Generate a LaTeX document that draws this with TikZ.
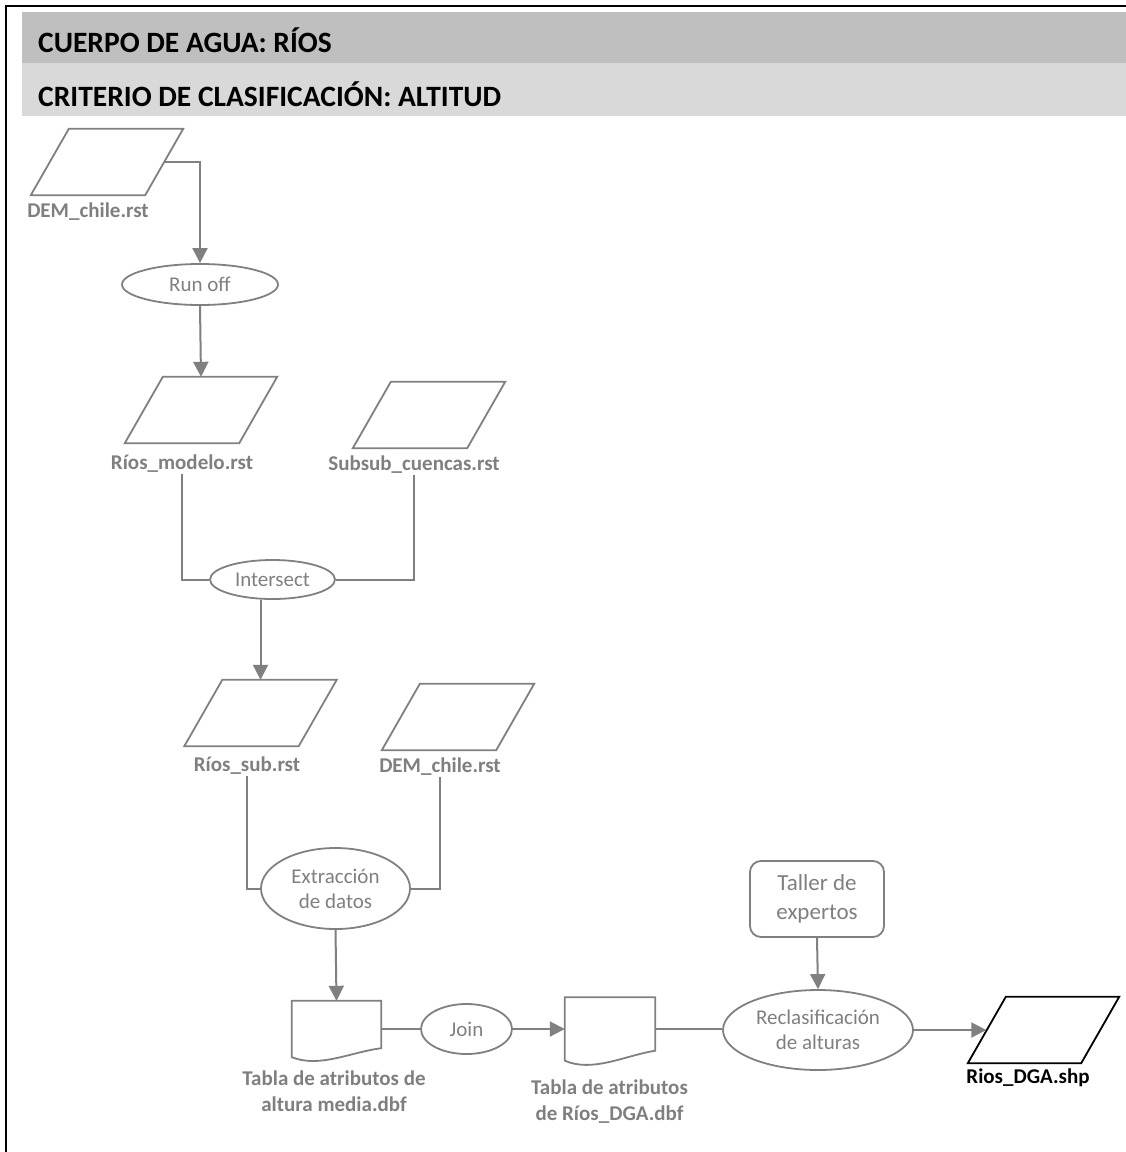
\documentclass[tikz,border=0pt]{standalone}
\usepackage{fontspec}
\setmainfont{Carlito}
\usetikzlibrary{shapes.geometric,arrows.meta,calc}
\definecolor{lineg}{HTML}{808080}
\definecolor{txtg}{HTML}{7F7F7F}
\definecolor{bandA}{HTML}{BFBFBF}
\definecolor{bandB}{HTML}{D9D9D9}
\tikzset{
  conn/.style={draw=lineg, line width=2pt},
  arr/.style={conn, -{Triangle[width=15pt,length=15pt]}},
  proc/.style={ellipse, draw=lineg, line width=1.8pt, text=txtg, inner sep=0pt, align=center,
    font=\fontsize{21}{25}\selectfont},
  parabox/.style={rectangle, inner sep=0pt, minimum height=66pt, minimum width=152pt},
  paraline/.style={draw=lineg, line width=1.8pt, line join=miter},
  lab/.style={text=txtg, font=\bfseries\fontsize{21}{26}\selectfont, align=center, inner sep=2pt},
  docbox/.style={rectangle, inner sep=0pt},
  docline/.style={draw=lineg, line width=1.8pt, line join=miter},
  head/.style={font=\bfseries\fontsize{29.5}{33}\selectfont, anchor=base west, inner sep=0pt}
}
\newcommand\drawpara[2][]{\draw[paraline,#1] (#2.south west) -- ($(#2.north west)+(38,0)$) -- (#2.north east) -- ($(#2.south east)+(-38,0)$) -- cycle;}
\begin{document}
\begin{tikzpicture}[x=1pt,y=-1pt]
\useasboundingbox (0,0) rectangle (1126,1152);
% frame and header bands
\fill[bandA] (22,12) rectangle (1126,62.5);
\fill[bandB] (22,62.5) rectangle (1126,116);
\draw[line width=2.4pt] (6,1160) -- (6,6) -- (1130,6);
\node[head] (h1) at (38,52) {CUERPO DE AGUA: RÍOS};
\node[head] (h2) at (38,106.5) {CRITERIO DE CLASIFICACIÓN: ALTITUD};

% parallelograms
\node[parabox] (dem1) at (107,162) {};
\node[parabox] (rmod) at (201,410) {};
\node[parabox] (subsub) at (429,415) {};
\node[parabox] (rsub) at (260.5,713) {};
\node[parabox] (dem2) at (458,717) {};
\node[parabox, minimum width=151pt] (rdga) at (1043.5,1030) {};
\drawpara{dem1}
\drawpara{rmod}
\drawpara{subsub}
\drawpara{rsub}
\drawpara{dem2}
\drawpara[draw=black]{rdga}

% labels
\node[lab, anchor=base] (ldem1) at (88,217) {DEM\_chile.rst};
\node[lab, anchor=base] (lrmod) at (182,469) {Ríos\_modelo.rst};
\node[lab, anchor=base] (lsub) at (414,470) {Subsub\_cuencas.rst};
\node[lab, anchor=base] (lrsub) at (247,771) {Ríos\_sub.rst};
\node[lab, anchor=base] (ldem2) at (440,772) {DEM\_chile.rst};
\node[lab] (ltab1) at (334,1091) {Tabla de atributos de\\altura media.dbf};
\node[lab] (ltab2) at (609.5,1102) {Tabla de atributos\\de Ríos\_DGA.dbf};
\node[lab, anchor=base, text=black] (lrdga) at (1028,1083) {Rios\_DGA.shp};

% processes
\node[proc, minimum width=156pt, minimum height=41pt] (runoff) at (200,284.5) {Run off};
\node[proc, minimum width=125pt, minimum height=39pt] (inter) at (272.5,579.5) {Intersect};
\node[proc, minimum width=149pt, minimum height=81pt] (ext) at (335.5,888.5) {Extracción\\de datos};
\node[proc, minimum width=91pt, minimum height=50pt] (join) at (466.5,1029) {Join};
\node[proc, minimum width=190pt, minimum height=80pt] (recl) at (818,1030) {Reclasificación\\de alturas};
\node[rectangle, rounded corners=11pt, draw=lineg, line width=1.8pt, text=txtg, align=center,
  font=\fontsize{23}{29}\selectfont, minimum width=134pt, minimum height=76pt, inner sep=0pt]
  (taller) at (817,899) {Taller de\\expertos};

% documents
\node[docbox, minimum width=89pt, minimum height=56pt] (doc1) at (336.5,1029) {};
\draw[docline] (doc1.south west) -- (doc1.north west) -- (doc1.north east) -- ($(doc1.south east)+(0,-9)$)
  .. controls ($(doc1.south east)+(-31,-5)$) and ($(doc1.south west)+(28,11)$) .. (doc1.south west) -- cycle;
\node[docbox, minimum width=90pt, minimum height=63pt] (doc2) at (610,1029) {};
\draw[docline] (doc2.south west) -- (doc2.north west) -- (doc2.north east) -- ($(doc2.south east)+(0,-10)$)
  .. controls ($(doc2.south east)+(-31,-5)$) and ($(doc2.south west)+(28,12)$) .. (doc2.south west) -- cycle;

% connectors
\draw[arr] ($(dem1.east)+(-19,0)$) -| (runoff.north);
\draw[arr] (runoff.south) -- (rmod.north);
\draw[conn] (lrmod.south) |- (inter.west);
\draw[conn] (lsub.south) |- (inter.east);
\draw[arr] (rsub.north |- inter.south) -- (rsub.north);
\draw[conn] (lrsub.south) |- (ext.west);
\draw[conn] (ldem2.south) |- (ext.east);
\draw[arr] (ext.south) -- (doc1.north);
\draw[conn] (doc1.east) -- (join.west);
\draw[arr] (join.east) -- (doc2.west);
\draw[conn] (doc2.east) -- (doc2.east -| recl.west);
\draw[arr] (taller.south) -- (recl.north);
\draw[arr] (recl.east) -- ($(rdga.west)+(18.5,0)$);
\end{tikzpicture}
\end{document}
